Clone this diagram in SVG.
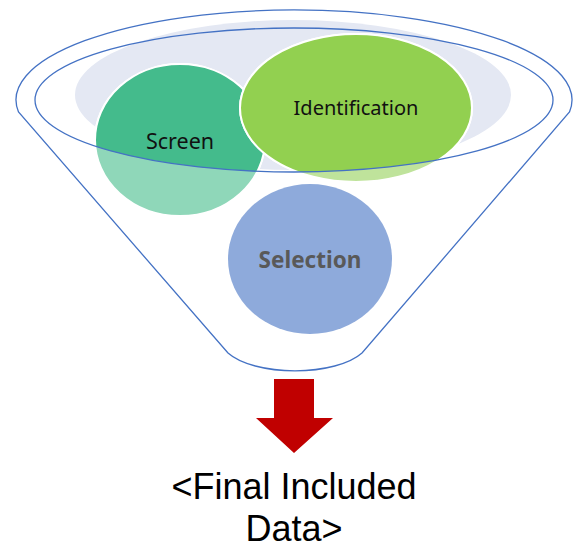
<svg xmlns="http://www.w3.org/2000/svg" width="577" height="550" viewBox="0 0 577 550">
<defs>
<style>
.ln{fill:none;stroke:#4472c4;stroke-width:1.3}
.lbl{font-family:"Noto Sans","Open Sans",sans-serif;text-anchor:middle;dominant-baseline:central}
.circ{stroke:#fff;stroke-width:2}
.res{font-family:"Liberation Sans",Arial,sans-serif;font-size:36px;text-anchor:middle;fill:#000}
</style>
<clipPath id="topclip"><ellipse cx="294" cy="100" rx="259" ry="72"/></clipPath>
</defs>
<rect width="577" height="550" fill="#fff"/>
<ellipse id="bg" cx="293" cy="95" rx="218" ry="75" fill="#e4e8f3"/>
<g id="funnel">
<path class="ln" d="M18.5 112 A278 90 0 1 1 569.5 112 L362 353 A74 31 0 0 1 228 353 Z"/>
</g>
<g id="screen">
<ellipse class="circ" cx="180" cy="140" rx="85" ry="76" fill="#8fd7b9"/>
<ellipse class="circ" cx="180" cy="140" rx="85" ry="76" fill="#44bb8c" clip-path="url(#topclip)"/>
<text class="lbl" x="180" y="140" font-size="21.5" fill="#111">Screen</text>
</g>
<g id="identification">
<ellipse class="circ" cx="356" cy="108" rx="116" ry="74" fill="#bfe39b"/>
<ellipse class="circ" cx="356" cy="108" rx="116" ry="74" fill="#92d050" clip-path="url(#topclip)"/>
<text class="lbl" x="356" y="107" font-size="20" fill="#111">Identification</text>
</g>
<g id="selection">
<ellipse cx="310" cy="259" rx="82" ry="75" fill="#8eaadb"/>
<text class="lbl" x="310" y="259" font-size="22.5" font-weight="bold" fill="#595959">Selection</text>
</g>
<g id="rim">
<ellipse class="ln" cx="294" cy="100" rx="259" ry="72"/>
</g>
<g id="connectors">
<path d="M274 379 H314 V418 H333 L294 453 L256 418 H274 Z" fill="#c00000"/>
</g>
<g id="result">
<text class="res" x="294" y="499">&lt;Final Included</text>
<text class="res" x="294" y="541">Data&gt;</text>
</g>
</svg>
